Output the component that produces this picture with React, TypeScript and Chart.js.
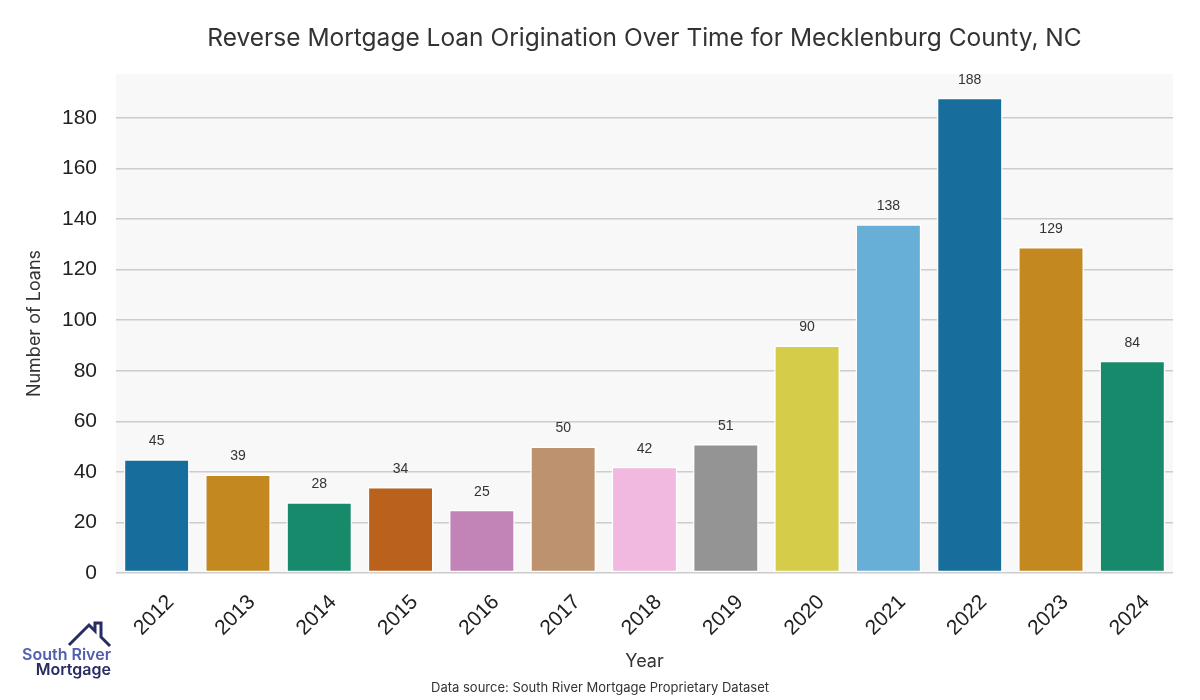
import React, { useEffect, useRef } from "react";
import { Chart, registerables } from "chart.js";

Chart.register(...registerables);

const years = ["2012", "2013", "2014", "2015", "2016", "2017", "2018", "2019", "2020", "2021", "2022", "2023", "2024"];
const loans = [45, 39, 28, 34, 25, 50, 42, 51, 90, 138, 188, 129, 84];
const barColors = [
  "#176d9c", "#c38820", "#168a6a", "#ba611b", "#c283b6", "#bd926e", "#f2b9e0",
  "#949494", "#d5cd4a", "#68afd7", "#176d9c", "#c38820", "#168a6a",
];
const yMin = 0;
const yMax = 197.4;
const yStep = 20;

const titleText = "Reverse Mortgage Loan Origination Over Time for Mecklenburg County, NC";
const xTitleText = "Year";
const yTitleText = "Number of Loans";
const sourceText = "Data source: South River Mortgage Proprietary Dataset";
const logoLine1 = "South River";
const logoLine2 = "Mortgage";

const TEXT_FONT = "Inter, 'Noto Sans', sans-serif";
const TICK_FONT = "'Liberation Sans', Arial, sans-serif";

const decorPlugin = {
  id: "decor",
  beforeDraw(chart: any) {
    const { ctx, chartArea: a } = chart;
    ctx.save();
    ctx.fillStyle = "#ffffff";
    ctx.fillRect(0, 0, chart.width, chart.height);
    ctx.fillStyle = "#f8f8f8";
    ctx.fillRect(a.left, a.top, a.right - a.left, a.bottom - a.top);
    ctx.restore();
  },
  afterDatasetsDraw(chart: any) {
    const { ctx } = chart;
    const meta = chart.getDatasetMeta(0);
    const data = chart.data.datasets[0].data;
    ctx.save();
    ctx.font = `14px ${TICK_FONT}`;
    ctx.fillStyle = "#333333";
    ctx.textAlign = "center";
    ctx.textBaseline = "middle";
    meta.data.forEach((bar: any, i: number) => {
      ctx.fillText(String(data[i]), bar.x, bar.y - 18);
    });
    ctx.restore();
  },
  afterDraw(chart: any) {
    const { ctx, chartArea: a } = chart;
    const cx = (a.left + a.right) / 2;
    ctx.save();
    ctx.fillStyle = "#333333";
    ctx.textAlign = "center";
    ctx.textBaseline = "middle";
    // title
    ctx.font = `24.5px ${TEXT_FONT}`;
    ctx.fillText(titleText, cx, 39);
    // x title
    ctx.font = `18px ${TEXT_FONT}`;
    ctx.fillText(xTitleText, cx, 662);
    // y title
    ctx.save();
    ctx.translate(35, (a.top + a.bottom) / 2);
    ctx.rotate(-Math.PI / 2);
    ctx.fillText(yTitleText, 0, 0);
    ctx.restore();
    // source
    ctx.font = `13px ${TEXT_FONT}`;
    ctx.fillText(sourceText, 600, 688);

    // logo
    ctx.strokeStyle = "#272c63";
    ctx.lineWidth = 3;
    ctx.lineJoin = "miter";
    ctx.beginPath();
    ctx.moveTo(69, 645);
    ctx.lineTo(89, 625);
    ctx.lineTo(95, 631);
    ctx.lineTo(95, 623);
    ctx.lineTo(101, 623);
    ctx.lineTo(101, 637);
    ctx.lineTo(110, 646);
    ctx.stroke();
    ctx.textAlign = "right";
    ctx.textBaseline = "alphabetic";
    ctx.font = `600 16px ${TEXT_FONT}`;
    ctx.fillStyle = "#4f5fae";
    ctx.fillText(logoLine1, 111, 660);
    ctx.fillStyle = "#272c63";
    ctx.fillText(logoLine2, 111, 675);
    ctx.restore();
  },
};

export default function App() {
  const canvasRef = useRef<HTMLCanvasElement | null>(null);

  useEffect(() => {
    document.body.style.margin = "0";
    const canvas = canvasRef.current;
    if (!canvas) return;
    const chart = new Chart(canvas, {
      type: "bar",
      data: {
        labels: years,
        datasets: [
          {
            data: loans,
            backgroundColor: barColors,
            borderColor: "#ffffff",
            borderWidth: 1.5,
            borderSkipped: false,
            barPercentage: 0.81,
            categoryPercentage: 1,
          },
        ],
      },
      options: {
        animation: false,
        responsive: false,
        devicePixelRatio: 1,
        layout: { padding: { left: 0, right: 27, top: 74, bottom: 0 } },
        plugins: {
          legend: { display: false },
          tooltip: { enabled: false },
          title: { display: false },
        },
        scales: {
          x: {
            grid: { display: false, drawTicks: false },
            border: { display: false },
            ticks: {
              autoSkip: false,
              minRotation: 45,
              maxRotation: 45,
              padding: 17,
              labelOffset: 14,
              color: "#222222",
              font: { family: TICK_FONT, size: 21 },
            },
            afterFit(scale: any) {
              scale.height = 127;
            },
          },
          y: {
            min: yMin,
            max: yMax,
            grid: { color: "#cccccc", lineWidth: 1.5, drawTicks: false },
            border: { display: false },
            ticks: {
              stepSize: yStep,
              includeBounds: false,
              padding: 19,
              color: "#222222",
              font: { family: TICK_FONT, size: 21 },
            },
            afterFit(scale: any) {
              scale.width = 116;
            },
          },
        },
      },
      plugins: [decorPlugin],
    });
    return () => chart.destroy();
  }, []);

  return (
    <div style={{ width: 1200, height: 700 }}>
      <canvas ref={canvasRef} width={1200} height={700} style={{ display: "block" }} />
    </div>
  );
}
